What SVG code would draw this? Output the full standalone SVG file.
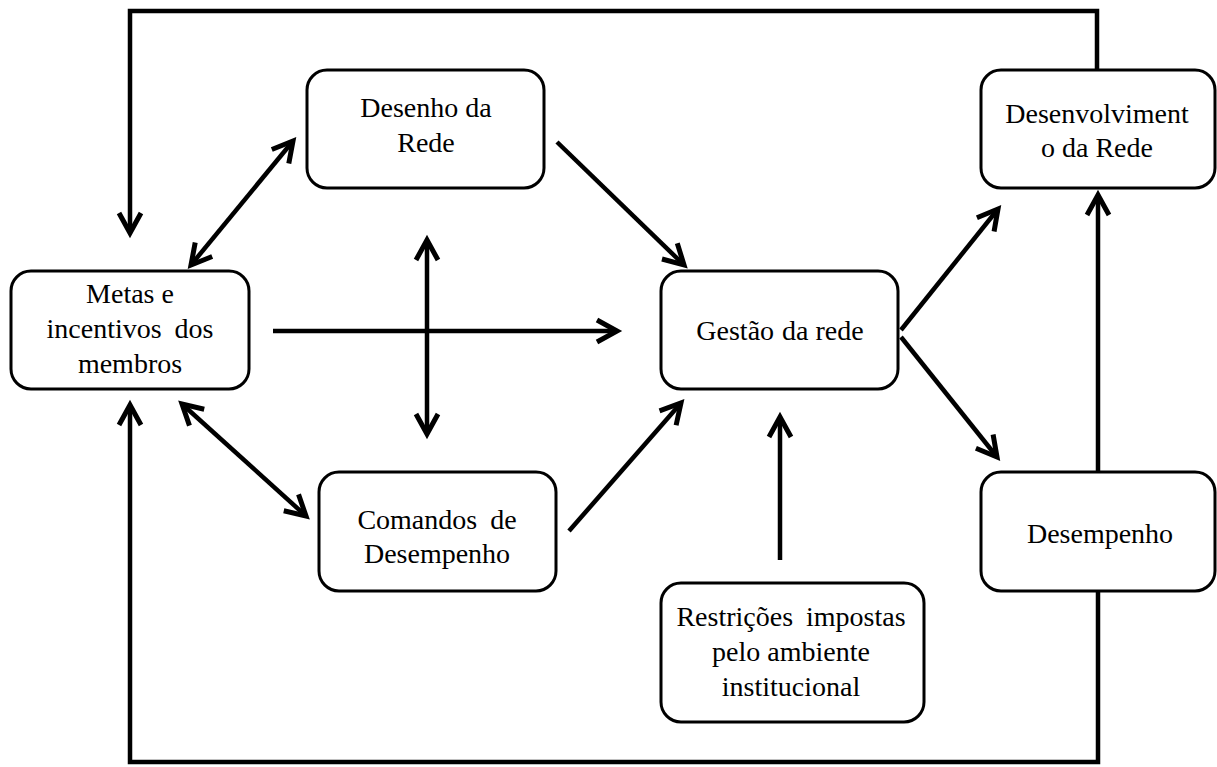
<svg xmlns="http://www.w3.org/2000/svg" width="1217" height="767" viewBox="0 0 1217 767">
<style>
.box{fill:#fff;stroke:#000;stroke-width:3}
.t{font-family:"Liberation Serif","Times New Roman",serif;font-size:28px;fill:#000;text-anchor:middle}
.c{fill:none;stroke:#000;stroke-width:4.5}
</style>
<defs>
<marker id="arr" markerUnits="userSpaceOnUse" markerWidth="34" markerHeight="34" viewBox="-26 -17 34 34" refX="0" refY="0" orient="auto-start-reverse">
<path d="M -20 -11 L 0 0 L -20 11" fill="none" stroke="#000" stroke-width="5" stroke-linejoin="miter"/>
</marker>
</defs>
<rect width="1217" height="767" fill="#fff"/>
<g id="connectors">
<path class="c" d="M 1097 70 V 11 H 130 V 233" marker-end="url(#arr)"/>
<path class="c" d="M 1098 592 V 762 H 130 V 405" marker-end="url(#arr)"/>
<path class="c" d="M 1098 472 V 195" marker-end="url(#arr)"/>
<path class="c" d="M 191 265 L 293 141" marker-start="url(#arr)" marker-end="url(#arr)"/>
<path class="c" d="M 557 142 L 684 265" marker-end="url(#arr)"/>
<path class="c" d="M 427 240 L 427 434" marker-start="url(#arr)" marker-end="url(#arr)"/>
<path class="c" d="M 273 331 L 617 331" marker-end="url(#arr)"/>
<path class="c" d="M 182 404 L 306 516" marker-start="url(#arr)" marker-end="url(#arr)"/>
<path class="c" d="M 569 531 L 681 403" marker-end="url(#arr)"/>
<path class="c" d="M 780 560 L 780 417" marker-end="url(#arr)"/>
<path class="c" d="M 901 330 L 998 209" marker-end="url(#arr)"/>
<path class="c" d="M 901 337 L 997 457" marker-end="url(#arr)"/>
</g>
<g id="desenho">
<rect class="box" x="307" y="70" width="237" height="118" rx="20"/>
<text class="t" x="426" y="117">Desenho da</text>
<text class="t" x="426" y="152">Rede</text>
</g>
<g id="metas">
<rect class="box" x="11" y="271" width="238" height="118" rx="20"/>
<text class="t" x="130" y="303">Metas e</text>
<text class="t" x="130" y="338" word-spacing="6">incentivos dos</text>
<text class="t" x="130" y="373">membros</text>
</g>
<g id="gestao">
<rect class="box" x="661" y="271" width="237" height="118" rx="20"/>
<text class="t" x="780" y="340"><tspan>Gestão</tspan><tspan dx="8">da rede</tspan></text>
</g>
<g id="desenvolvimento">
<rect class="box" x="981" y="70" width="234" height="118" rx="20"/>
<text class="t" x="1097" y="123">Desenvolviment</text>
<text class="t" x="1097" y="157">o da Rede</text>
</g>
<g id="comandos">
<rect class="box" x="319" y="472" width="237" height="119" rx="20"/>
<text class="t" x="437" y="529" word-spacing="6">Comandos de</text>
<text class="t" x="437" y="563">Desempenho</text>
</g>
<g id="restricoes">
<rect class="box" x="661" y="583" width="263" height="139" rx="20"/>
<text class="t" x="791" y="626" word-spacing="6">Restrições impostas</text>
<text class="t" x="791" y="661">pelo ambiente</text>
<text class="t" x="791" y="696">institucional</text>
</g>
<g id="desempenho">
<rect class="box" x="981" y="472" width="234" height="119" rx="20"/>
<text class="t" x="1100" y="543">Desempenho</text>
</g>
</svg>
